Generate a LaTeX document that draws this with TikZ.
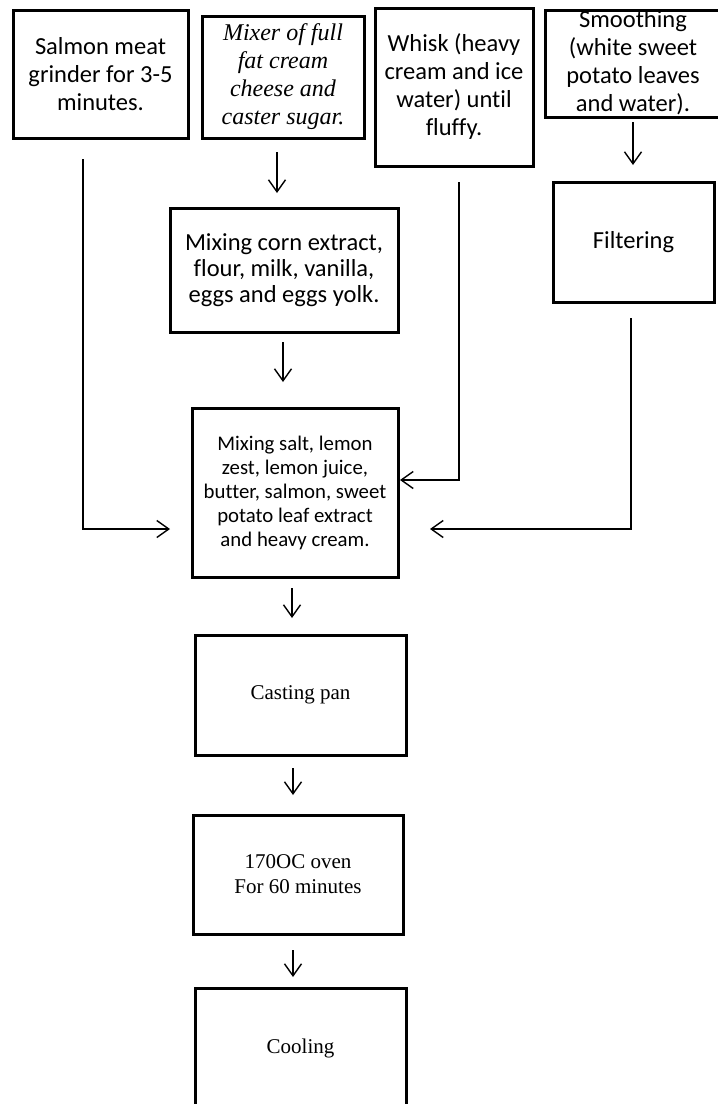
\documentclass[tikz,border=0pt]{standalone}
\usepackage{fontspec}
\setmainfont{Liberation Serif}
\newfontfamily\calib[Ligatures=NoCommon]{Carlito}
\usetikzlibrary{arrows.meta}
\begin{document}
\begin{tikzpicture}[x=1pt,y=-1pt,
  box/.style={draw, line width=3pt, inner sep=0pt, outer sep=0pt, align=center},
  sans/.style={font=\calib\fontsize{24.5}{28}\selectfont},
  serif/.style={font=\fontsize{21}{25}\selectfont},
  arr/.style={line width=1.4pt, -{Straight Barb[length=12pt,width=17pt]}},
  lnk/.style={line width=1.4pt, -{Straight Barb[length=12pt,width=17pt]}, rounded corners=0pt}]
\useasboundingbox (0,0) rectangle (718,1104);
\fill[white] (0,0) rectangle (718,1104);

\node[box, sans, minimum width=175pt, minimum height=128pt] (b1) at (100.5,74) {Salmon meat\\grinder for 3-5\\minutes.};
\node[box, font=\itshape\fontsize{24}{28}\selectfont, minimum width=162pt, minimum height=122pt] (b2) at (283,77) {Mixer of full\\fat cream\\cheese and\\caster sugar.};
\node[box, sans, minimum width=158pt, minimum height=158pt] (b3) at (454,87) {Whisk (heavy\\cream and ice\\water) until\\fluffy.};
\node[box, minimum width=176pt, minimum height=107pt] (b4) at (633,63.5) {};
\node[sans, align=center, inner sep=0pt] (b4t) at ([yshift=1pt]b4.center) {Smoothing\\(white sweet\\potato leaves\\and water).};
\node[box, sans, minimum width=161pt, minimum height=120pt] (b5) at (633.5,242) {Filtering};
\node[box, font=\calib\fontsize{24.5}{26}\selectfont, minimum width=228pt, minimum height=124pt] (b6) at (284,270) {Mixing corn extract,\\flour, milk, vanilla,\\eggs and eggs yolk.};
\node[box, font=\calib\fontsize{20.8}{24}\selectfont, minimum width=206pt, minimum height=169pt] (b7) at (295,492.5) {Mixing salt, lemon\\zest, lemon juice,\\butter, salmon, sweet\\potato leaf extract\\and heavy cream.};
\node[box, serif, minimum width=211pt, minimum height=120pt] (b8) at (300.5,695) {Casting pan};
\node[box, serif, minimum width=210pt, minimum height=119pt] (b9) at (298,874.5) {170OC oven\\For 60 minutes};
\node[box, serif, minimum width=211pt, minimum height=120pt] (b10) at (300.5,1048) {Cooling};

\draw[arr] ([xshift=-6pt,yshift=-14pt]b2.south) -- ([xshift=-7pt,yshift=15pt]b6.north);
\draw[arr] ([xshift=0pt,yshift=-5pt]b4.south) -- ([xshift=-0.5pt,yshift=17pt]b5.north);
\draw[arr] ([xshift=-1pt,yshift=-10pt]b6.south) -- ([xshift=-12pt,yshift=26pt]b7.north);
\draw[lnk] ([xshift=-17.5pt,yshift=-21pt]b1.south) |- ([xshift=-22pt,yshift=-36.5pt]b7.west);
\draw[lnk] ([xshift=5pt,yshift=-16pt]b3.south) |- ([xshift=2pt,yshift=12.5pt]b7.east);
\draw[lnk] ([xshift=-2.5pt,yshift=-16pt]b5.south) |- ([xshift=32pt,yshift=-36.5pt]b7.east);
\draw[arr] ([xshift=-3pt,yshift=-11pt]b7.south) -- ([xshift=-8.5pt,yshift=17pt]b8.north);
\draw[arr] ([xshift=-7.5pt,yshift=-13pt]b8.south) -- ([xshift=-5pt,yshift=20pt]b9.north);
\draw[arr] ([xshift=-5pt,yshift=-16pt]b9.south) -- ([xshift=-7.5pt,yshift=11pt]b10.north);
\end{tikzpicture}
\end{document}
